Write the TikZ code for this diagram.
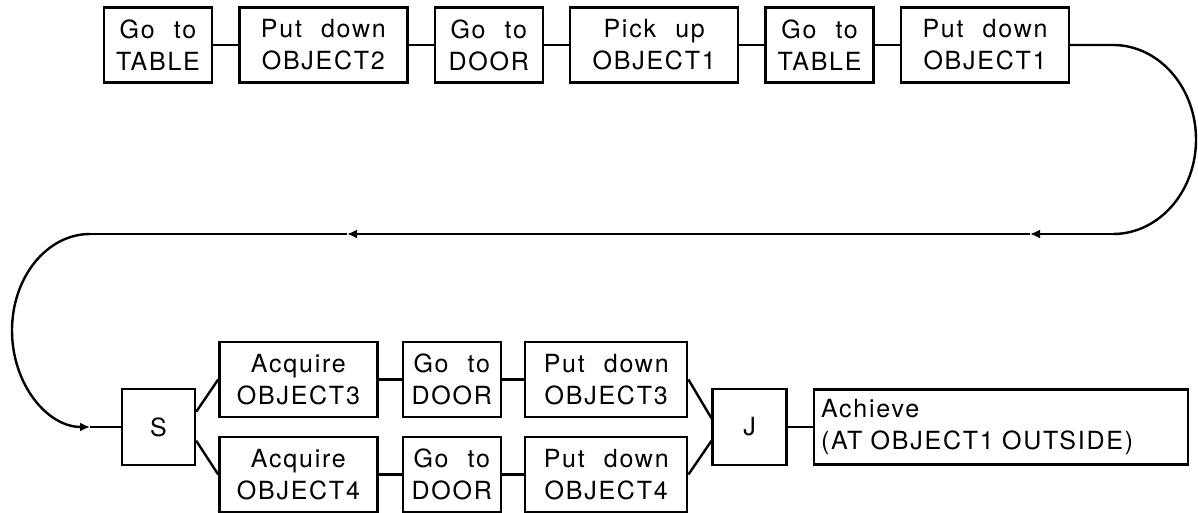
\documentclass[tikz,border=0pt]{standalone}
\usepackage{fontspec}
\setmainfont[LetterSpace=7,WordSpace=2.2]{TeX Gyre Heros}
\usetikzlibrary{positioning, arrows.meta}

\begin{document}
\begin{tikzpicture}[x=0.5pt, y=-0.5pt, node distance=12.5pt, line width=1.2pt,
    box/.style = {draw, rectangle, align=center, minimum height=37.5pt, inner sep=2pt, font=\fontsize{12.5}{16}\selectfont},
    go/.style = {box, minimum width=54pt},
    put/.style = {box, minimum width=84pt},
    tip/.style = {-{Latex[length=5pt, width=4.5pt]}}]
    \useasboundingbox (0,0) rectangle (1198,513);

    % first row of steps
    \node[go] (t1) at (158,45) {Go to\\TABLE};
    \node[put] (t2) [right=of t1] {Put down\\OBJECT2};
    \node[go] (t3) [right=of t2] {Go to\\DOOR};
    \node[put] (t4) [right=of t3] {Pick up\\OBJECT1};
    \node[go] (t5) [right=of t4] {Go to\\TABLE};
    \node[put] (t6) [right=of t5] {Put down\\OBJECT1};

    % split and join
    \node[box, minimum width=36.5pt, minimum height=38pt] (s) at (158.5,427) {S};
    \node[box, minimum width=79pt] (a3) [right=11pt of s, yshift=23.75pt] {Acquire\\OBJECT3};
    \node[box, minimum width=49pt] (g3) [right=11.5pt of a3] {Go to\\DOOR};
    \node[box, minimum width=81pt] (p3) [right=11pt of g3] {Put down\\OBJECT3};
    \node[box, minimum width=79pt] (a4) [right=11pt of s, yshift=-23.75pt] {Acquire\\OBJECT4};
    \node[box, minimum width=49pt] (g4) [right=11.5pt of a4] {Go to\\DOOR};
    \node[box, minimum width=81pt] (p4) [right=11pt of g4] {Put down\\OBJECT4};
    \node[box, minimum width=37pt, minimum height=38pt] (j) [right=11.5pt of p3, yshift=-23.75pt] {J};
    \node[box, align=left, text width=180pt, inner sep=3.5pt] (ach) [right=12.5pt of j] {Achieve\\(AT OBJECT1 OUTSIDE)};

    \draw (t1) -- (t2) (t2) -- (t3) (t3) -- (t4);
    \draw (t4) -- (t5) (t5) -- (t6);
    \draw (s.22) -- (a3.west);
    \draw (s.-20) -- (a4.west);
    \draw (a3) -- (g3) (g3) -- (p3);
    \draw (a4) -- (g4) (g4) -- (p4);
    \draw (p3.east) -- (j.167);
    \draw (p4.east) -- (j.200);
    \draw (j) -- (ach);

    % loop back to the split
    \coordinate (rtop) at (1113,45);
    \coordinate (rbot) at (1113,234);
    \coordinate (m1) at (1030,234);
    \coordinate (m2) at (347,234);
    \coordinate (lbot) at (90,234);
    \coordinate (lend) at (90,427);
    \draw (t6) -- (rtop) arc[start angle=90, end angle=-90, x radius=41.5pt, y radius=47.25pt];
    \draw[tip] (rbot) -- (m1);
    \draw[tip] (m1) -- (m2);
    \draw (m2) -- (lbot);
    \draw[tip] (lbot) arc[start angle=90, end angle=270, x radius=39pt, y radius=48.25pt];
    \draw (lend) -- (s);
\end{tikzpicture}
\end{document}
